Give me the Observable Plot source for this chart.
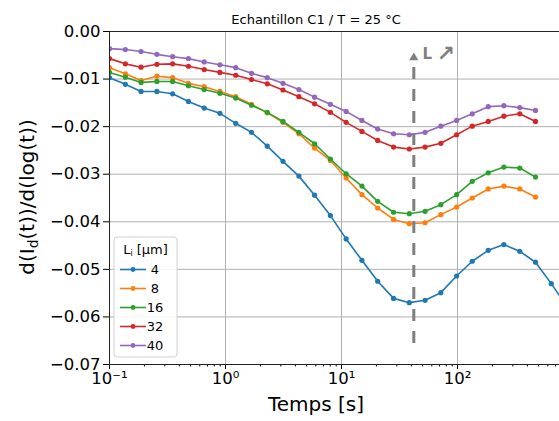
<!DOCTYPE html>
<html>
<head>
<meta charset="utf-8">
<script src="https://cdn.jsdelivr.net/npm/d3@7"></script>
<script src="https://cdn.jsdelivr.net/npm/@observablehq/plot@0.6"></script>
<style>
  html, body { margin: 0; padding: 0; background: white; overflow: hidden; }
  #chart { width: 559px; height: 421px; }
</style>
</head>
<body>
<div id="chart"></div>
<script>
// ---- data ----
const times = [0.1, 0.137, 0.187, 0.256, 0.350, 0.479, 0.655, 0.895, 1.225, 1.675,
  2.29, 3.13, 4.29, 5.86, 8.02, 10.96, 15.0, 20.5, 28.1, 38.4,
  52.5, 71.8, 98.2, 134, 184, 251, 344, 470, 643, 878];
const lengths = ["4", "8", "16", "32", "40"];
const colors = ["#1f77b4", "#ff7f0e", "#2ca02c", "#d62728", "#9467bd"];
const s4 = [-0.0097, -0.0111, -0.0126, -0.0126, -0.0131, -0.0147, -0.0161, -0.0172, -0.0193, -0.0212,
  -0.0241, -0.0273, -0.0304, -0.0344, -0.0387, -0.0436, -0.0481, -0.0525, -0.0561, -0.0570,
  -0.0565, -0.0549, -0.0514, -0.0483, -0.0460, -0.0448, -0.0462, -0.0485, -0.0530, -0.0578];
const s8 = [-0.0076, -0.0089, -0.0103, -0.0094, -0.0097, -0.0109, -0.0116, -0.0126, -0.0137, -0.0153,
  -0.0171, -0.0191, -0.0215, -0.0245, -0.0271, -0.0308, -0.0343, -0.0371, -0.0395, -0.0404,
  -0.0402, -0.0385, -0.0369, -0.0350, -0.0331, -0.0325, -0.0331, -0.0348];
const s16 = [-0.0086, -0.0096, -0.0107, -0.0105, -0.0105, -0.0114, -0.0122, -0.0130, -0.0140, -0.0155,
  -0.0170, -0.0189, -0.0212, -0.0236, -0.0268, -0.0299, -0.0325, -0.0357, -0.0380, -0.0383,
  -0.0378, -0.0364, -0.0343, -0.0315, -0.0297, -0.0285, -0.0287, -0.0306];
const s32 = [-0.0057, -0.0068, -0.0075, -0.0069, -0.0068, -0.0073, -0.0080, -0.0086, -0.0092, -0.0101,
  -0.0110, -0.0123, -0.0137, -0.0152, -0.0170, -0.0191, -0.0210, -0.0229, -0.0243, -0.0247,
  -0.0243, -0.0235, -0.0217, -0.0199, -0.0189, -0.0178, -0.0173, -0.0189];
const s40 = [-0.0036, -0.0038, -0.0042, -0.0048, -0.0053, -0.0057, -0.0064, -0.0070, -0.0076, -0.0088,
  -0.0097, -0.0109, -0.0122, -0.0138, -0.0153, -0.0168, -0.0187, -0.0205, -0.0215, -0.0217,
  -0.0212, -0.0199, -0.0187, -0.0173, -0.0158, -0.0156, -0.0160, -0.0166];
const seriesValues = [s4, s8, s16, s32, s40];

const xMajor = [0.1, 1, 10, 100];
const xTickLabels = ["10⁻¹", "10⁰", "10¹", "10²"];
const xMinor = [0.2, 0.3, 0.4, 0.5, 0.6, 0.7, 0.8, 0.9, 2, 3, 4, 5, 6, 7, 8, 9,
  20, 30, 40, 50, 60, 70, 80, 90, 200, 300, 400, 500, 600, 700];
const yTicks = [0, -0.01, -0.02, -0.03, -0.04, -0.05, -0.06, -0.07];

const titleText = "Echantillon C1 / T = 25 °C";
const xLabel = "Temps [s]";
const legendTitle = "L";
const arrowT = 42;
const arrowBottom = -0.0656;
const arrowTop = -0.0062;
const arrowHeadY = -0.0055;
const arrowLabelL = "L";
const arrowLabelArrow = "↗";
const arrowLabelT = 50;
const arrowGlyphT = 66;
const arrowLabelY = -0.0047;

// ---- build table ----
const rows = [];
seriesValues.forEach((vals, i) => {
  vals.forEach((v, j) => rows.push({t: times[j], v, L: lengths[i]}));
});

const seriesMarks = [];
lengths.forEach((L) => {
  const d = rows.filter(r => r.L === L);
  seriesMarks.push(Plot.line(d, {x: "t", y: "v", stroke: "L", strokeWidth: 1.6, clip: true}));
  seriesMarks.push(Plot.dot(d, {x: "t", y: "v", fill: "L", r: 2.6, clip: true}));
});

const chart = Plot.plot({
  width: 559,
  height: 421,
  marginLeft: 109,
  marginRight: 0,
  marginTop: 31,
  marginBottom: 57,
  style: {fontFamily: "DejaVu Sans", fontSize: "16.5px", color: "black", background: "white"},
  x: {type: "log", domain: [0.1, 757]},
  y: {domain: [-0.07, 0]},
  color: {domain: lengths, range: colors},
  marks: [
    Plot.gridX({ticks: [1, 10, 100], stroke: "#b0b0b0", strokeOpacity: 1, strokeWidth: 1}),
    Plot.gridY({ticks: yTicks, stroke: "#b0b0b0", strokeOpacity: 1, strokeWidth: 1}),
    Plot.axisY({ticks: yTicks, tickFormat: d3.format(".2f"), tickSize: 6, tickPadding: 3, label: null, fontSize: 16.5}),
    Plot.axisX({ticks: xMajor, tickFormat: d => xTickLabels[xMajor.indexOf(d)], tickSize: 5, tickPadding: 3, label: null, fontSize: 16.5}),
    Plot.axisX({ticks: xMinor, tickFormat: () => "", tickSize: 2.5, label: null}),
    ...seriesMarks,
    Plot.ruleX([arrowT], {y1: arrowBottom, y2: arrowTop, stroke: "#7f7f7f", strokeWidth: 3, strokeDasharray: "12,10"}),
    Plot.dot([arrowT], {x: d => d, y: () => arrowHeadY, symbol: "triangle", r: 3.4, fill: "#7f7f7f"}),
    Plot.text([arrowLabelL], {x: () => arrowLabelT, y: () => arrowLabelY, text: d => d, textAnchor: "start", fontSize: 15, fontWeight: "bold", fill: "#7f7f7f"}),
    Plot.text([arrowLabelArrow], {x: () => arrowGlyphT, y: () => arrowLabelY, text: d => d, textAnchor: "start", fontSize: 22, fontWeight: "bold", fill: "#7f7f7f"}),
    Plot.ruleY([0, -0.07], {stroke: "#222", strokeWidth: 1}),
    Plot.ruleX([0.1], {stroke: "#222", strokeWidth: 1})
  ]
});
document.getElementById("chart").appendChild(chart);

// ---- annotations: title, axis labels, legend ----
const svg = d3.select(chart);
svg.append("text")
  .attr("x", 316).attr("y", 24)
  .attr("text-anchor", "middle")
  .attr("font-size", 13).attr("fill", "black")
  .text(titleText);

svg.append("text")
  .attr("x", 316).attr("y", 411)
  .attr("text-anchor", "middle")
  .attr("font-size", 20).attr("fill", "black")
  .text(xLabel);

const yl = svg.append("text")
  .attr("transform", "translate(34,197) rotate(-90)")
  .attr("text-anchor", "middle")
  .attr("font-size", 20).attr("fill", "black");
yl.append("tspan").text("d(I");
yl.append("tspan").attr("font-size", 14).attr("dy", 4).text("d");
yl.append("tspan").attr("dy", -4).text("(t))/d(log(t))");

const lg = svg.append("g");
lg.append("rect")
  .attr("x", 114).attr("y", 237).attr("width", 63).attr("height", 120)
  .attr("rx", 3).attr("fill", "white").attr("fill-opacity", 0.85)
  .attr("stroke", "#d0d0d0").attr("stroke-width", 1);
const lt = lg.append("text")
  .attr("x", 145.5).attr("y", 254)
  .attr("text-anchor", "middle").attr("font-size", 13).attr("fill", "black");
lt.append("tspan").text(legendTitle);
lt.append("tspan").attr("font-size", 8).attr("dy", 2).text("i");
lt.append("tspan").attr("dy", -2).text(" [µm]");

lengths.forEach((L, i) => {
  const cy = 269.5 + i * 19;
  lg.append("line")
    .attr("x1", 120).attr("x2", 146).attr("y1", cy).attr("y2", cy)
    .attr("stroke", colors[i]).attr("stroke-width", 1.6);
  lg.append("circle")
    .attr("cx", 133).attr("cy", cy).attr("r", 2.4).attr("fill", colors[i]);
  lg.append("text")
    .attr("x", 155).attr("y", cy + 4.7)
    .attr("font-size", 13).attr("fill", "black")
    .text(L);
});
</script>
</body>
</html>
